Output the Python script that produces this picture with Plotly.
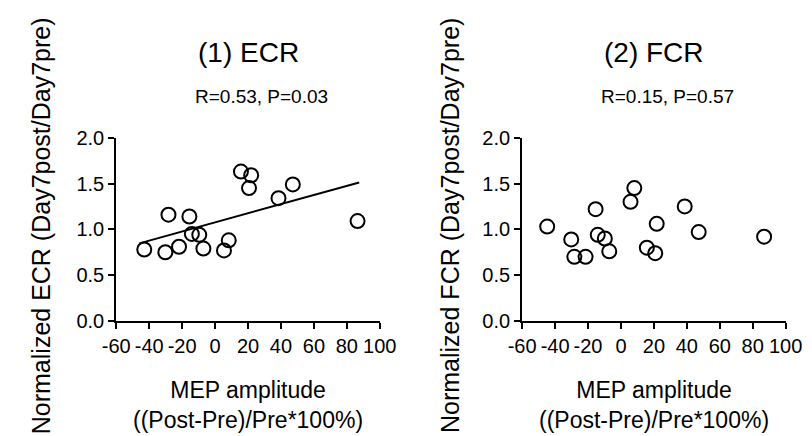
import plotly.graph_objects as go

# ---- data ----
ecr_x = [-43, -30.2, -28.3, -21.9, -15.6, -14.1, -9.6, -7.1, 5.4, 8.3, 15.7, 21.9, 20.6, 38.5, 47.2, 86.5]
ecr_y = [0.78, 0.75, 1.16, 0.81, 1.14, 0.95, 0.94, 0.79, 0.77, 0.88, 1.63, 1.59, 1.45, 1.34, 1.49, 1.09]
ecr_fit_intercept = 1.076
ecr_fit_slope = 0.00498

fcr_x = [-44.8, -30.2, -28.3, -21.5, -15.4, -14.1, -9.8, -7.1, 5.8, 8.1, 15.7, 20.8, 21.7, 38.7, 47.2, 86.9]
fcr_y = [1.03, 0.89, 0.70, 0.70, 1.22, 0.94, 0.90, 0.76, 1.30, 1.45, 0.80, 0.74, 1.06, 1.25, 0.97, 0.92]

panel_titles = ["(1) ECR", "(2) FCR"]
stats_text = ["R=0.53, P=0.03", "R=0.15, P=0.57"]
y_titles = ["Normalized ECR (Day7post/Day7pre)", "Normalized FCR (Day7post/Day7pre)"]
x_title = "MEP amplitude<br>((Post-Pre)/Pre*100%)"
x_ticks = [-60, -40, -20, 0, 20, 40, 60, 80, 100]
x_ticktext = ["-60", "-40", "-20", "0", "20", "40", "60", "80", "100"]
y_ticks = [0.0, 0.5, 1.0, 1.5, 2.0]
y_ticktext = ["0.0", "0.5", "1.0", "1.5", "2.0"]

FONT = "Arial, Liberation Sans, sans-serif"
W, H = 812, 436

fig = go.Figure()

marker = dict(symbol="circle-open", size=14, color="black", line=dict(width=2, color="black"))
fig.add_trace(go.Scatter(x=ecr_x, y=ecr_y, mode="markers", marker=marker, xaxis="x", yaxis="y", showlegend=False))
fx = [min(ecr_x) - 3, max(ecr_x) + 1]
fy = [ecr_fit_intercept + ecr_fit_slope * v for v in fx]
fig.add_trace(go.Scatter(x=fx, y=fy, mode="lines", line=dict(color="black", width=2), xaxis="x", yaxis="y", showlegend=False))
fig.add_trace(go.Scatter(x=fcr_x, y=fcr_y, mode="markers", marker=marker, xaxis="x2", yaxis="y2", showlegend=False))

def px(v):
    return v / W

def py(v):
    return 1 - v / H

ax_common = dict(showgrid=False, zeroline=False, showline=True, linecolor="black", linewidth=2,
                 ticks="outside", ticklen=6, tickwidth=2, tickcolor="black", tickangle=0,
                 tickfont=dict(family=FONT, size=20, color="black"))

x_dom = [[px(98), px(372)], [px(520), px(794)]]
y_dom = [py(318), py(125)]

fig.update_layout(
    width=W, height=H, margin=dict(l=0, r=0, t=0, b=0),
    paper_bgcolor="white", plot_bgcolor="white",
    xaxis=dict(domain=x_dom[0], range=[-60, 100], tickvals=x_ticks, ticktext=x_ticktext, anchor="y", **ax_common),
    yaxis=dict(domain=y_dom, range=[0, 2], tickvals=y_ticks, ticktext=y_ticktext, anchor="x", **ax_common),
    xaxis2=dict(domain=x_dom[1], range=[-60, 100], tickvals=x_ticks, ticktext=x_ticktext, anchor="y2", **ax_common),
    yaxis2=dict(domain=y_dom, range=[0, 2], tickvals=y_ticks, ticktext=y_ticktext, anchor="x2", **ax_common),
)

centers = [(98 + 372) / 2, (520 + 794) / 2]
ytitle_x = [20, 445]
ann = []
for i in range(2):
    ann.append(dict(text=panel_titles[i], x=px(centers[i]), y=py(35), xref="paper", yref="paper",
                    showarrow=False, xanchor="center", yanchor="middle",
                    font=dict(family=FONT, size=28, color="black")))
    ann.append(dict(text=stats_text[i], x=px(centers[i] + 14), y=py(82), xref="paper", yref="paper",
                    showarrow=False, xanchor="center", yanchor="middle",
                    font=dict(family=FONT, size=19, color="black")))
    ann.append(dict(text=y_titles[i], x=px(ytitle_x[i]), y=py(218), xref="paper", yref="paper",
                    showarrow=False, xanchor="center", yanchor="middle", textangle=-90,
                    font=dict(family=FONT, size=25, color="black")))
    ann.append(dict(text=x_title, x=px(centers[i]), y=py(406), xref="paper", yref="paper",
                    showarrow=False, xanchor="center", yanchor="middle",
                    font=dict(family=FONT, size=23, color="black")))
fig.update_layout(annotations=ann)

fig.write_html("out.html")
